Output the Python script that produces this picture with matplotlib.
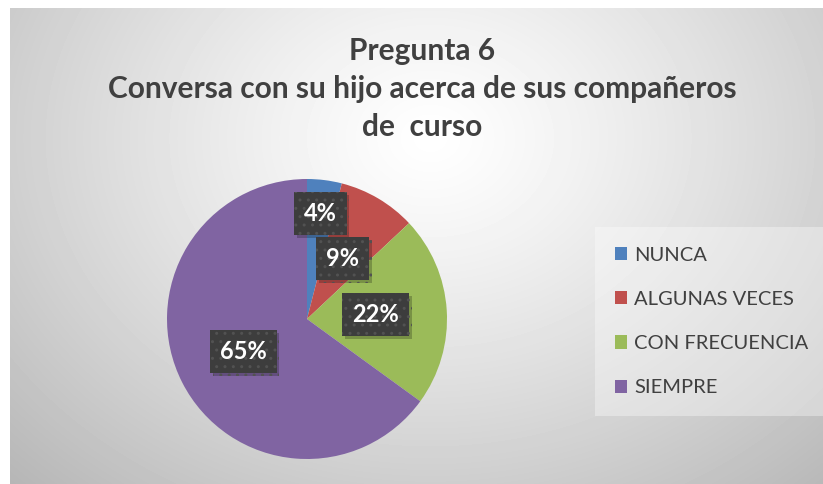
import numpy as np
import matplotlib
matplotlib.use("Agg")
from matplotlib import pyplot as plt
from matplotlib import patheffects as pe

categorias = ["NUNCA", "ALGUNAS VECES", "CON FRECUENCIA", "SIEMPRE"]
porcentajes = [4, 9, 22, 65]
colores = ["#4F81BD", "#C0504D", "#9BBB59", "#8064A2"]
titulo = "Pregunta 6\nConversa con su hijo acerca de sus compañeros\nde  curso"

plt.rcParams['font.family'] = ['Lato', 'DejaVu Sans']
W, H = 823, 484
fig = plt.figure(figsize=(W / 100, H / 100), dpi=100)
fig.patch.set_facecolor("white")

# fondo con degradado radial
bg = fig.add_axes([10 / W, 0, (W - 10) / W, (H - 8) / H])
bg.set_axis_off()
yy, xx = np.mgrid[0:476, 0:813]
d = np.sqrt(((xx - 420) / 500.0) ** 2 + ((yy - 130) / 400.0) ** 2)
img = 1.0 - 0.23 * np.clip(d, 0, 1.2) ** 1.2
bg.imshow(img, cmap="gray", vmin=0, vmax=1, aspect="auto", interpolation="bilinear")

fig.text(422 / W, 1 - 89 / H, titulo, ha="center", va="center", fontsize=21.5,
         fontweight="bold", color="#404040", linespacing=1.42)

# pastel
cx, cy, r = 307, 319, 140
ax = fig.add_axes([(cx - r) / W, (H - cy - r) / H, 2 * r / W, 2 * r / H])
wedges, _ = ax.pie(porcentajes, colors=colores, startangle=90, counterclock=False,
                   wedgeprops=dict(linewidth=0))
ax.set_xlim(-1, 1)
ax.set_ylim(-1, 1)

distancias = [0.76, 0.5, 0.49, 0.51]
acum = 0
for p, dist in zip(porcentajes, distancias):
    mid = 90 - 360 * (acum + p / 2) / sum(porcentajes)
    acum += p
    x = dist * np.cos(np.radians(mid))
    y = dist * np.sin(np.radians(mid))
    t = ax.text(x, y, "%d%%" % p, ha="center", va="center", fontsize=17,
                fontweight="bold", color="white",
                bbox=dict(boxstyle="square,pad=0.42", facecolor="#3d3d3d",
                          edgecolor="#525252", linewidth=0, hatch=".."))
    t.get_bbox_patch().set_path_effects([
        pe.SimplePatchShadow(offset=(2, -2), shadow_rgbFace="black", alpha=0.22),
        pe.Normal()])

leg = fig.legend(wedges, categorias, loc="upper left",
                 bbox_to_anchor=(595 / W, 1 - 227 / H), fontsize=14.5,
                 frameon=True, handlelength=0.62, handleheight=0.62,
                 handletextpad=0.35, labelspacing=1.35, borderpad=0.98,
                 borderaxespad=0, fancybox=False)
leg.get_frame().set_facecolor("white")
leg.get_frame().set_alpha(0.35)
leg.get_frame().set_linewidth(0)
for t in leg.get_texts():
    t.set_color("#404040")

fig.savefig("out.png", dpi=100)
